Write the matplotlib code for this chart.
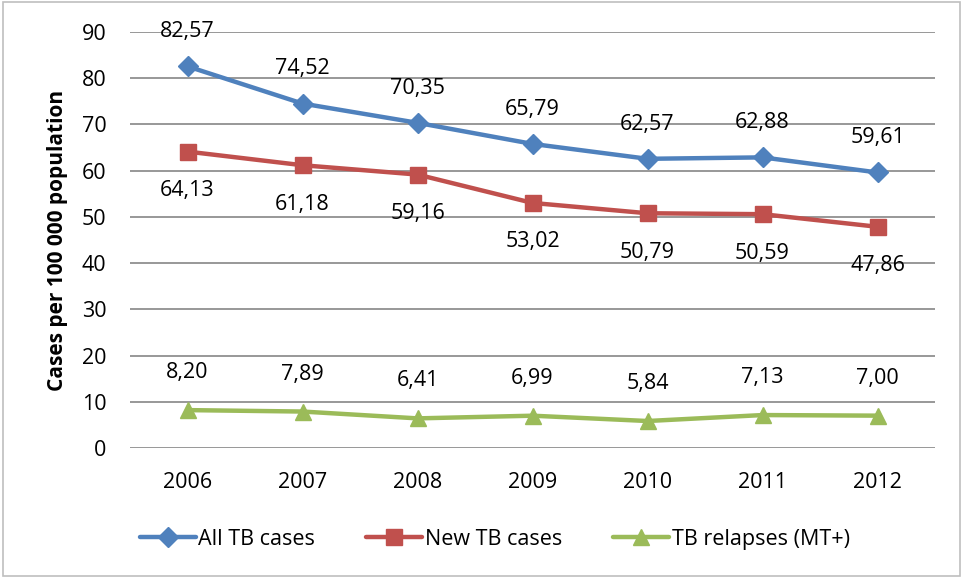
import matplotlib.pyplot as plt
from matplotlib.patches import Rectangle

years = ['2006', '2007', '2008', '2009', '2010', '2011', '2012']
all_tb = [82.57, 74.52, 70.35, 65.79, 62.57, 62.88, 59.61]
new_tb = [64.13, 61.18, 59.16, 53.02, 50.79, 50.59, 47.86]
relapses = [8.20, 7.89, 6.41, 6.99, 5.84, 7.13, 7.00]

plt.rcParams['font.family'] = ['Open Sans', 'DejaVu Sans']


def fmt(v):
    return f'{v:.2f}'.replace('.', ',')


fig = plt.figure(figsize=(9.63, 5.78), dpi=100)
ax = fig.add_axes([0.135, 0.2249, 0.836, 0.7197])
x = range(len(years))

series = [
    (all_tb, 'All TB cases', '#4F81BD', 'D', 10, 25),
    (new_tb, 'New TB cases', '#C0504D', 's', 11, -28),
    (relapses, 'TB relapses (MT+)', '#9BBB59', '^', 12, 27),
]
for vals, name, col, mk, ms, off in series:
    ax.plot(x, vals, color=col, lw=3.2, marker=mk, ms=ms, label=name,
            solid_capstyle='round')
    for xi, v in zip(x, vals):
        ax.annotate(fmt(v), (xi, v), xytext=(0, off), textcoords='offset points',
                    ha='center', va='center', fontsize=15.5)

ax.set_xlim(-0.5, 6.5)
ax.set_ylim(0, 90)
ax.set_yticks(range(0, 91, 10))
ax.set_xticks(list(x))
ax.set_xticklabels(years)
ax.tick_params(axis='both', length=0, labelsize=15.5)
ax.tick_params(axis='y', pad=17)
ax.tick_params(axis='x', pad=17)
ax.grid(axis='y', color='#868686', lw=1.2)
ax.set_axisbelow(True)
for s in ax.spines.values():
    s.set_visible(False)
ax.set_ylabel('Cases per 100 000 population', fontsize=15, fontweight='bold', labelpad=10)

ax.legend(loc='center left', bbox_to_anchor=(-0.012, -0.22), ncol=3, frameon=False,
          fontsize=15.5, handlelength=2.6, handletextpad=0.1, columnspacing=2.4,
          bbox_transform=ax.transAxes)

fig.patches.append(Rectangle((0.003, 0.004), 0.994, 0.992, transform=fig.transFigure,
                             fill=False, ec='#BFBFBF', lw=1.2))

fig.savefig('out.png', dpi=100)
